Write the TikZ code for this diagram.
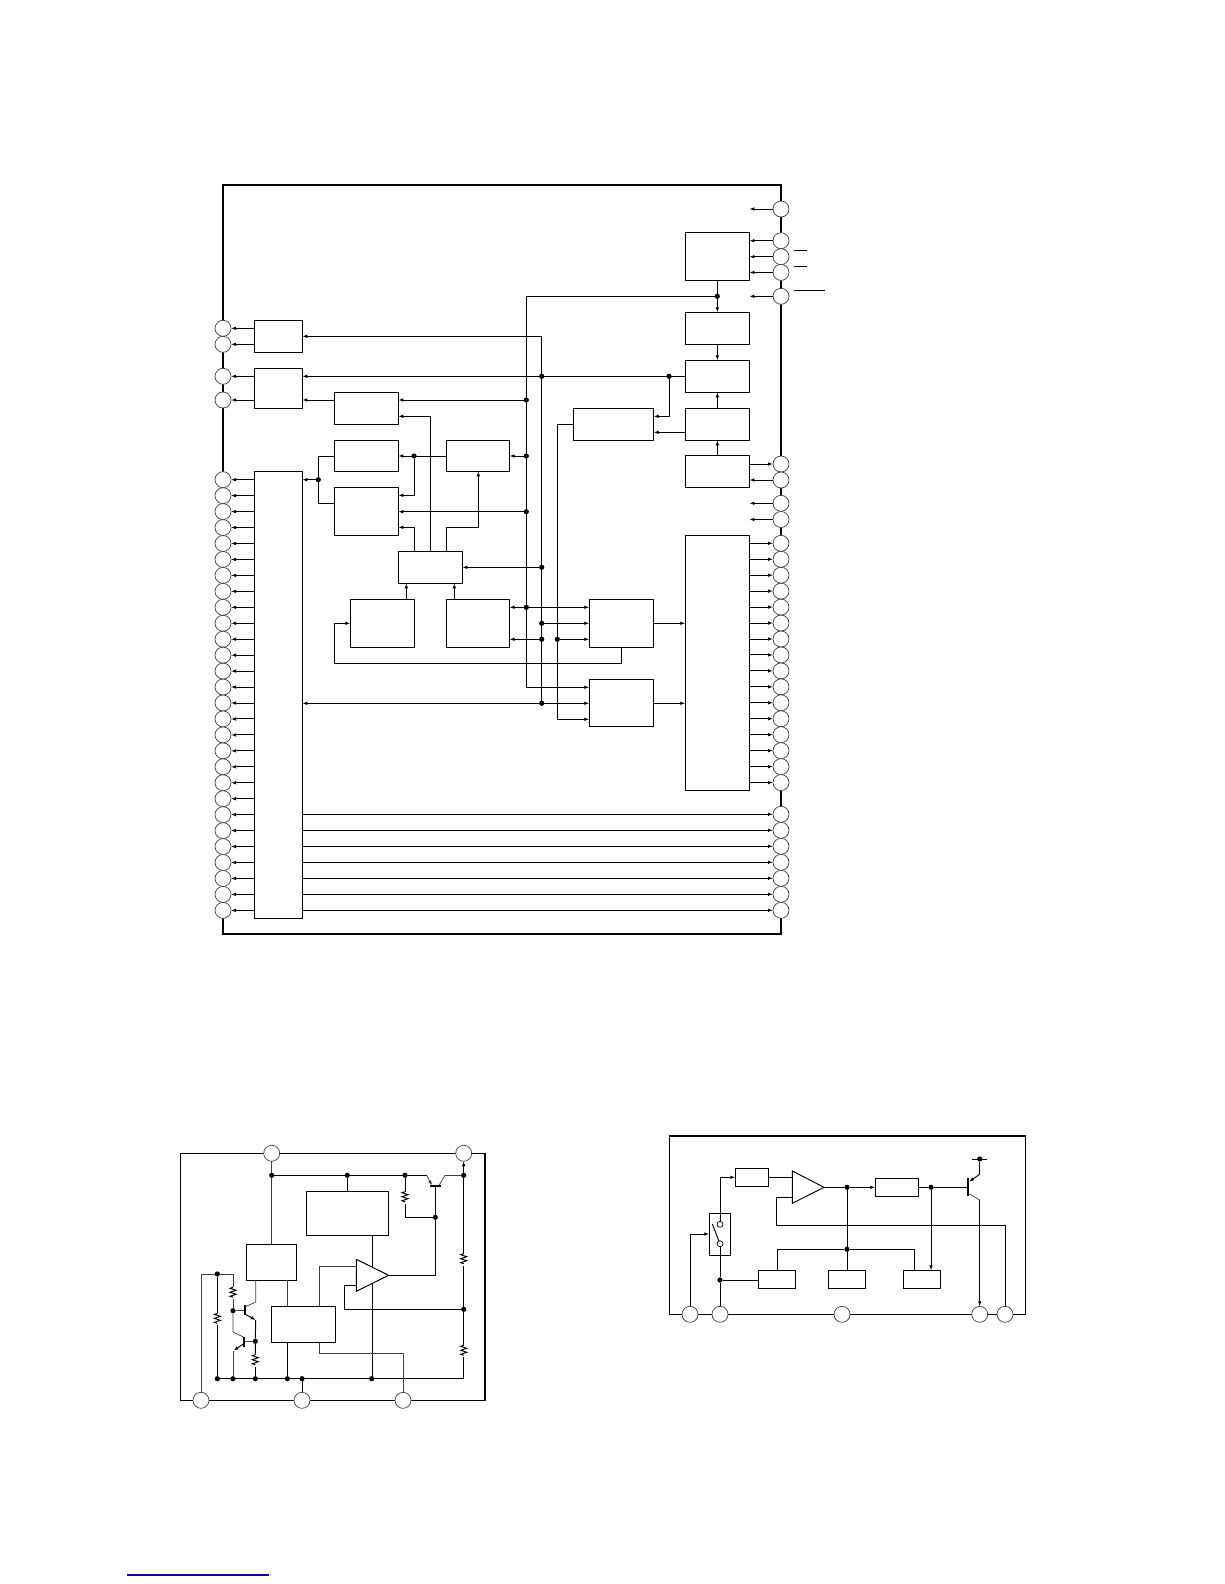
\documentclass[tikz,border=0pt]{standalone}
\usetikzlibrary{arrows.meta,calc}
\definecolor{linknavy}{RGB}{10,10,150}
\tikzset{
  wire/.style={line width=0.95pt,black},
  thinw/.style={line width=0.75pt,black!75},
  arr/.style={-{Latex[length=5pt,width=3.6pt]}},
  frameline/.style={line width=2.2pt,black},
  framethin/.style={line width=1.2pt,black},
  boxn/.style={draw,fill=white,line width=0.95pt,inner sep=0pt,outer sep=0pt},
  pinn/.style={circle,draw=black!75,fill=white,line width=0.7pt,minimum size=16pt,inner sep=0pt,outer sep=0pt},
  dotn/.style={circle,fill=black,minimum size=5.2pt,inner sep=0pt,outer sep=0pt},
  ringn/.style={circle,draw=black,fill=white,line width=0.7pt,minimum size=6pt,inner sep=0pt,outer sep=0pt},
}
\newcommand\bx[5]{\node[boxn,minimum width={(#4-#2)*1pt},minimum height={(#5-#3)*1pt}] (#1) at ({(#2+#4)/2},{(#3+#5)/2}) {};}
\newcommand\dt[3]{\node[dotn] (#1) at (#2,#3) {};}
\newcommand\resv[3]{%
  \coordinate (#1t) at (#2,{#3-6});
  \coordinate (#1b) at (#2,{#3+6});
  \draw[wire,line join=miter] (#1t) -- ++(-3,1) -- ++(6,2) -- ++(-6,2) -- ++(6,2) -- ++(-6,2) -- ++(3,1);
}
\begin{document}
\begin{tikzpicture}[x=1pt,y=-1pt]
\useasboundingbox (0,0) rectangle (1224,1584);
\fill[white] (0,0) rectangle (1224,1584);

%% ============ main block diagram
\draw[frameline] (223,185) rectangle (781,933.7);

% pins
\node[pinn] (a0) at (223,328.3) {};
\node[pinn] (a1) at (223,344.3) {};
\node[pinn] (a2) at (223,376.3) {};
\node[pinn] (a3) at (223,400) {};
\foreach \i in {0,...,27} \node[pinn] (l\i) at (223,{479.7+15.95*\i}) {};
\node[pinn] (r0) at (781,209) {};
\node[pinn] (r1) at (781,240.7) {};
\node[pinn] (r2) at (781,256.7) {};
\node[pinn] (r3) at (781,272.4) {};
\node[pinn] (r4) at (781,296.3) {};
\node[pinn] (r5) at (781,464) {};
\node[pinn] (r6) at (781,480) {};
\node[pinn] (r7) at (781,503.3) {};
\node[pinn] (r8) at (781,519.5) {};
\foreach \i in {0,...,15} \node[pinn] (s\i) at (781,{543.3+15.95*\i}) {};
\foreach \i in {0,...,6} \node[pinn] (t\i) at (781,{814.3+16*\i}) {};

% boxes
\bx{A}{254.3}{320.3}{302.3}{352.3}
\bx{B}{254.3}{368.3}{302.3}{408.3}
\bx{big}{254.3}{471.7}{302.3}{918.3}
\bx{C}{334.3}{392.3}{398.3}{424.3}
\bx{D}{334.3}{440.3}{398.3}{471.3}
\bx{E}{334.3}{487.3}{398.3}{535.3}
\bx{F}{446.3}{440.3}{509.6}{471.3}
\bx{G}{398.3}{551.3}{462.3}{583.3}
\bx{H}{350.3}{599.3}{414.6}{647.3}
\bx{I}{446.3}{599.3}{509.6}{647.3}
\bx{J}{589.3}{599.3}{653.6}{647.3}
\bx{K}{589.3}{679.3}{653.6}{726.6}
\bx{L}{685.3}{535.3}{749.4}{790.3}
\bx{M}{685.3}{232.3}{749.4}{280.3}
\bx{N}{685.3}{312.3}{749.4}{344.3}
\bx{O}{685.3}{360.3}{749.4}{392.3}
\bx{P}{685.3}{408.3}{749.4}{440.3}
\bx{Q}{685.3}{455.3}{749.4}{487.3}
\bx{R}{573.3}{408.3}{653.6}{440.3}

% junctions
\dt{topj}{717.3}{296.3}
\dt{d1}{526.3}{400}
\dt{d2}{526.3}{456}
\dt{d3}{526.3}{511.7}
\dt{d4}{526.3}{607.3}
\dt{e1}{541.7}{376.3}
\dt{e2}{541.7}{567.3}
\dt{e3}{541.7}{623.3}
\dt{e4}{541.7}{639.3}
\dt{e5}{541.7}{703.3}
\dt{f1}{557.3}{639.3}
\dt{g1}{669}{376.3}
\dt{h1}{414}{456}
\dt{h2}{318.3}{479.7}
\coordinate (b1top) at (526.3,296.3);
\coordinate (b1end) at (526.3,687.3);
\coordinate (b2top) at (541.7,336.3);
\coordinate (b3top) at (557.3,424.3);
\coordinate (b3end) at (557.3,719.3);

% buses
\draw[wire] (topj) -- (b1top) -- (b1end);
\draw[wire] (b2top) -- (e5);
\draw[wire] (R.west |- b3top) -- (b3top) -- (b3end);
\draw[wire,arr] (b2top) -- (A.east |- b2top);
\draw[wire,arr] (b1end) -- (K.west |- b1end);
\draw[wire,arr] (b3end) -- (K.west |- b3end);

% left outputs
\draw[wire,arr] (A.west |- a0) -- (a0);
\draw[wire,arr] (A.west |- a1) -- (a1);
\draw[wire,arr] (B.west |- a2) -- (a2);
\draw[wire,arr] (B.west |- a3) -- (a3);
\foreach \i in {0,...,27} \draw[wire,arr] (big.west |- l\i) -- (l\i);

% right side
\draw[wire,arr] (r0) -- (M.east |- r0);
\draw[wire,arr] (r1) -- (M.east |- r1);
\draw[wire,arr] (r2) -- (M.east |- r2);
\draw[wire,arr] (r3) -- (M.east |- r3);
\draw[wire,arr] (r4) -- (M.east |- r4);
\draw[wire,arr] (Q.east |- r5) -- (r5);
\draw[wire,arr] (r6) -- (Q.east |- r6);
\draw[wire,arr] (r7) -- (Q.east |- r7);
\draw[wire,arr] (r8) -- (Q.east |- r8);
\foreach \i in {0,...,15} \draw[wire,arr] (L.east |- s\i) -- (s\i);
\foreach \i in {0,...,6} \draw[wire,arr] (big.east |- t\i) -- (t\i);

% overbars beside the pins
\coordinate (o1a) at (794,250.3); \coordinate (o1b) at (806.7,250.3);
\coordinate (o2a) at (794,266.3); \coordinate (o2b) at (806.7,266.3);
\coordinate (o3a) at (794,290.3); \coordinate (o3b) at (824.7,290.3);
\draw[wire] (o1a) -- (o1b);
\draw[wire] (o2a) -- (o2b);
\draw[wire] (o3a) -- (o3b);

% right column
\draw[wire,arr] (M.south) -- (N.north);
\draw[wire,arr] (N.south) -- (O.north);
\draw[wire,arr] (P.north) -- (O.south);
\draw[wire,arr] (Q.north) -- (P.south);
\draw[wire,arr] (O.west |- e1) -- (B.east |- e1);
\draw[wire,arr] (g1) |- (R.east |- 0,416.3);
\draw[wire,arr] (P.west |- 0,432.3) -- (R.east |- 0,432.3);

% centre left
\draw[wire,arr] (d1) -- (C.east |- d1);
\draw[wire,arr] (C.west |- d1) -- (B.east |- d1);
\draw[wire,arr] (G.north) -- (430.3,416.3) -- (C.east |- 0,416.3);
\draw[wire,arr] (d2) -- (F.east |- d2);
\draw[wire,arr] (F.west |- d2) -- (D.east |- d2);
\draw[wire] (D.west |- d2) -| (h2);
\draw[wire] (h2) |- (E.west |- 0,503.3);
\draw[wire,arr] (h2) -- (big.east |- h2);
\draw[wire,arr] (h1) |- (E.east |- 0,495.3);
\draw[wire,arr] (d3) -- (E.east |- d3);
\draw[wire,arr] (G.north -| 414.3,0) |- (E.east |- 0,527.3);
\draw[wire,arr] (G.north -| 446.3,0) |- (478.3,527.3) -- (F.south -| 478.3,0);
\draw[wire,arr] (e2) -- (G.east |- e2);
\draw[wire,arr] (H.north -| 406.3,0) -- (G.south -| 406.3,0);
\draw[wire,arr] (I.north -| 454.3,0) -- (G.south -| 454.3,0);

% centre right
\draw[wire,arr] (d4) -- (I.east |- d4);
\draw[wire,arr] (d4) -- (J.west |- d4);
\draw[wire,arr] (e3) -- (J.west |- e3);
\draw[wire,arr] (e4) -- (I.east |- e4);
\draw[wire,arr] (f1) -- (J.west |- f1);
\draw[wire,arr] (J.east |- e3) -- (L.west |- e3);
\draw[wire,arr] (K.east |- e5) -- (L.west |- e5);
\draw[wire,arr] (J.south) |- (334.3,663.3) |- (H.west |- e3);
\draw[wire,arr] (e5) -- (K.west |- e5);
\draw[wire,arr] (e5) -- (big.east |- e5);

%% ============ lower left regulator
\draw[framethin] (180.3,1153.3) rectangle (485,1400.3);
\draw[line width=2pt] (485,1153.3) -- (485,1400.3);
\node[pinn] (u0) at (271.7,1153.3) {};
\node[pinn] (u1) at (463.7,1153.3) {};
\node[pinn] (v0) at (201,1400.3) {};
\node[pinn] (v1) at (302,1400.3) {};
\node[pinn] (v2) at (403,1400.3) {};

\bx{S}{306.3}{1191.3}{388.7}{1235.3}
\bx{T}{246.3}{1244.3}{296.7}{1280.3}
\bx{U}{271}{1306.3}{335.7}{1342.3}

\dt{x1}{271.7}{1175.3}
\dt{x2}{347.3}{1175.3}
\dt{x3}{405}{1175.3}
\dt{x4}{463.7}{1175.3}
\dt{x5}{435.3}{1217.3}
\dt{x6}{463.7}{1309.3}
\dt{y0}{217.3}{1378.7}
\dt{y1}{233}{1378.7}
\dt{y2}{255.3}{1378.7}
\dt{y3}{287.3}{1378.7}
\dt{y4}{302}{1378.7}
\dt{y5}{371.7}{1378.7}
\coordinate (y6) at (463.7,1378.7);
\dt{z1}{217.3}{1274}
\dt{z2}{233}{1310.7}
\dt{z3}{255.3}{1341.3}
\coordinate (z0) at (233,1274);
\coordinate (ampa) at (356.3,1259.3);
\coordinate (ampb) at (388.7,1275.3);
\coordinate (ampc) at (356.3,1291.3);
\coordinate (ampp) at (356.3,1266);
\coordinate (ampm) at (356.3,1285.7);

\draw[thinw] (u0) -- (x1) -- (T.north -| x1);
\draw[wire] (x1) -- (426.7,1175.3);
\draw[thinw] (445,1175.3) -- (x4);
\draw[wire] (x2) -- (S.north -| x2);
% top pass transistor
\coordinate (qe) at (426.7,1175.3);
\coordinate (qc) at (445,1175.3);
\coordinate (qb) at (435.3,1186);
\draw[line width=1.9pt] (430,1186) -- (440.7,1186);
\draw[thinw,arr] (qe) -- (432,1185.5);
\draw[thinw] (439,1185.5) -- (qc);
\draw[wire] (qb) -- (x5) -- (435.3,1275.3) -- (ampb);
\resv{ra}{405}{1197.7}
\draw[wire] (x3) -- (rat);
\draw[wire] (rab) -- (405,1217.3) -- (x5);
\draw[wire,arr] (x4) -- (u1);
\resv{rb}{463.7}{1259.7}
\resv{rc}{463.7}{1351.3}
\draw[wire] (x4) -- (rbt);
\draw[wire] (rbb) -- (x6) -- (rct);
\draw[wire] (rcb) -- (y6);
\draw[wire] (z1 |- y0) -- (y6);
\draw[wire] (y4) -- (v1);
% amplifier feeds
\draw[wire] (S.south -| 372.7,0) -- (372.7,1378.7);
\draw[thinw] (ampp) -| (U.north -| 319.3,0);
\draw[wire] (ampm) -- (344.3,1285.7) |- (x6);
\draw[thinw] (T.south -| 287.3,0) -- (U.north -| 287.3,0);
\draw[wire] (U.south -| 287.3,0) -- (y3);
\draw[thinw] (U.south -| 319.3,0) |- (403,1353.3) -- (v2);
\draw[wire,fill=white,line join=miter] (ampa) -- (ampb) -- (ampc) -- cycle;
% left network
\draw[thinw] (v0) |- (z1) -- (z0);
\resv{rd}{217.3}{1319.3}
\draw[wire] (z1) -- (rdt);
\draw[wire] (rdb) -- (y0);
\resv{re}{233}{1293.3}
\draw[thinw] (z0) -- (ret);
\draw[thinw] (reb) -- (z2);
\draw[thinw] (z2) -- (233,1332) -- (243.5,1337);
\draw[thinw] (z2) -- (244.7,1310.7);
\draw[line width=1.6pt] (244.7,1305.3) -- (244.7,1315.3);
\draw[thinw] (244.7,1307) -- (255.7,1302) -- (T.south -| 255.7,0);
\draw[wire,arr] (244.7,1314) -- (255.7,1320);
\draw[line width=1.6pt] (244,1336.7) -- (244,1346.7);
\draw[thinw] (244,1341.3) -- (z3);
\draw[wire,arr] (244,1343.5) -- (233.5,1350.7);
\draw[thinw] (233,1350.7) -- (y1);
\resv{rf}{255.3}{1360.7}
\draw[wire] (255.7,1320) -- (z3) -- (rft);
\draw[wire] (rfb) -- (y2);

%% ============ lower right regulator
\draw[framethin] (669.3,1136) rectangle (1025.3,1314.3);
\draw[frameline] (669.3,1136) -- (1025.3,1136);
\node[pinn] (w0) at (690,1314.3) {};
\node[pinn] (w1) at (720,1314.3) {};
\node[pinn] (w2) at (842,1314.3) {};
\node[pinn] (w3) at (979.7,1314.3) {};
\node[pinn] (w4) at (1005,1314.3) {};

\bx{SW}{709.3}{1213.3}{730.7}{1255.3}
\bx{V}{735.3}{1168.3}{768.7}{1186.3}
\bx{W}{875.3}{1178.3}{918.3}{1196.3}
\bx{X}{758.3}{1270.3}{795.7}{1288.3}
\bx{Y}{828.3}{1270.3}{865.7}{1288.3}
\bx{Z}{903.3}{1270.3}{940.7}{1288.3}
\node[ringn] (c1) at (720,1224.3) {};
\node[ringn] (c2) at (720,1243.7) {};
\coordinate (sw1) at (712.3,1224);
\coordinate (sw2) at (718.8,1240.8);
\draw[wire] (sw1) -- (sw2);

\dt{m1}{720}{1280}
\dt{m2}{847}{1187.3}
\dt{m3}{931}{1187.3}
\dt{m4}{847}{1249.3}
\dt{m5}{979.7}{1159}
\coordinate (oa) at (792.3,1171);
\coordinate (ob) at (824,1187.3);
\coordinate (oc) at (792.3,1203.3);
\coordinate (om) at (792.3,1197);

\draw[wire] (w1) -- (m1) -- (c2);
\draw[wire,arr] (c1) |- (V.west |- 0,1177.3);
\draw[wire,arr] (w0) |- (SW.west |- 0,1234);
\draw[wire] (m1) -- (X.west |- m1);
\draw[wire] (V.east |- 0,1177.3) -- (792.3,1177.3);
\draw[wire] (ob) -- (m2);
\draw[wire,arr] (m2) -- (W.west |- m2);
\draw[wire] (W.east |- m2) -- (m3) -- (968.3,1187.3);
\draw[wire,arr] (m3) -- (Z.north -| m3);
\draw[wire] (m2) -- (m4) -- (Y.north -| m4);
\draw[wire] (X.north -| 777.3,0) |- (m4);
\draw[wire] (Z.north -| 914.7,0) |- (m4);
\draw[wire] (om) -- (776.3,1197) |- (1005,1225.3) -- (w4);
\draw[wire,fill=white,line join=miter] (oa) -- (ob) -- (oc) -- cycle;
% output transistor
\draw[line width=2pt] (968.3,1178.3) -- (968.3,1196.3);
\draw[wire,arr] (979.7,1174.3) -- (969,1181.7);
\draw[wire] (m5) -- (979.7,1174.3);
\coordinate (tb1) at (972,1159);
\coordinate (tb2) at (987,1159);
\draw[wire] (tb1) -- (tb2);
\draw[thinw] (968.3,1193.3) -- (979.7,1200);
\draw[wire,arr] (979.7,1200) -- (w3);

%% ============ line at the foot of the page
\coordinate (fa) at (127,1575);
\coordinate (fb) at (268.7,1575);
\draw[line width=1.2pt,linknavy] (fa) -- (fb);
\end{tikzpicture}
\end{document}
